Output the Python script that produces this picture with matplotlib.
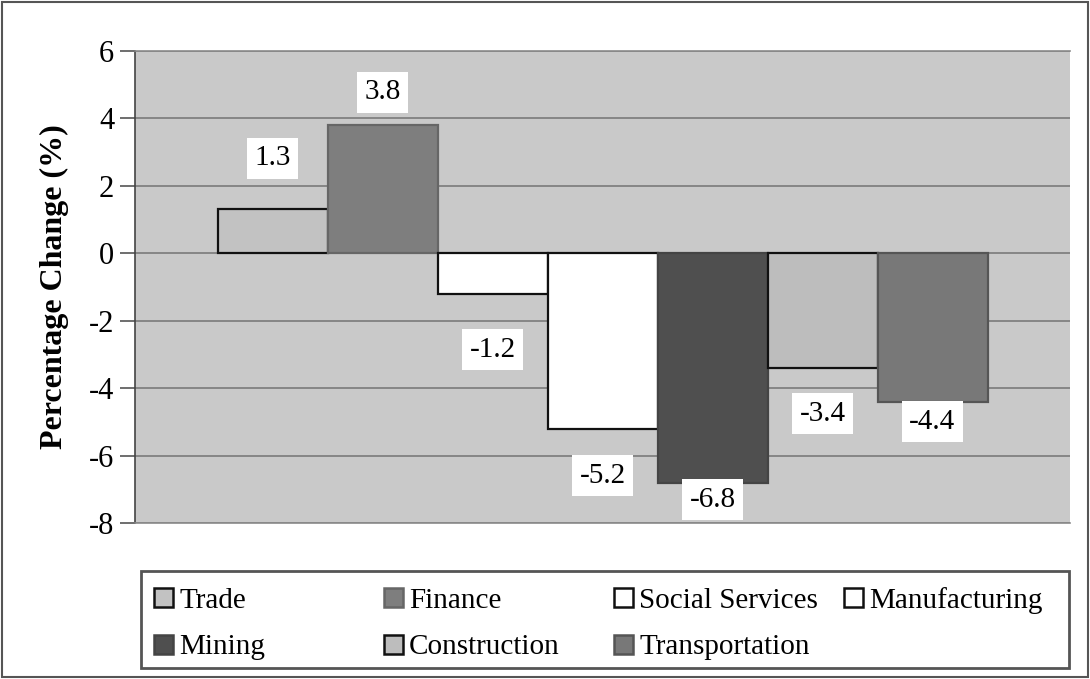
import matplotlib
matplotlib.use("Agg")
import matplotlib.pyplot as plt
from matplotlib.patches import Rectangle

categories = ["Trade", "Finance", "Social Services", "Manufacturing",
              "Mining", "Construction", "Transportation"]
values = [1.3, 3.8, -1.2, -5.2, -6.8, -3.4, -4.4]
labels = ["1.3", "3.8", "-1.2", "-5.2", "-6.8", "-3.4", "-4.4"]
yticks = [6, 4, 2, 0, -2, -4, -6, -8]

colors = ["#c2c2c2", "#7e7e7e", "#ffffff", "#ffffff", "#4f4f4f", "#bdbdbd", "#787878"]
edges = ["#111111", "#666666", "#111111", "#111111", "#444444", "#111111", "#555555"]
# label offsets (pixels) from bar end
offsets = [51, 33, -56, -47, -17, -46, -20]

plt.rcParams['font.family'] = ['Liberation Serif', 'DejaVu Serif']

W, H = 1090, 679
fig = plt.figure(figsize=(W / 100, H / 100), dpi=100)
ax = fig.add_axes([135 / W, 1 - 523 / H, (1070 - 135) / W, (523 - 51) / H])
ax.set_facecolor("#c9c9c9")

for i, v in enumerate(values):
    ax.bar(i, v, width=1.0, color=colors[i], edgecolor=edges[i], linewidth=1.6, zorder=3)
    ax.annotate(labels[i], xy=(i, v), xytext=(0, offsets[i] * 0.72),
                textcoords="offset points", ha="center", va="center",
                fontsize=21, zorder=5,
                bbox=dict(boxstyle="square,pad=0.26", fc="white", ec="none"))

ax.set_xlim(-1.25, 7.25)
ax.set_ylim(-8, 6)
ax.set_yticks(yticks)
ax.set_yticklabels([str(t) for t in yticks], fontsize=22)
ax.set_xticks([])
ax.grid(axis="y", color="#808080", linewidth=1.3, zorder=1)
ax.tick_params(axis="y", direction="out", length=11, width=1.2, color="#555555", pad=4)
for s in ["top", "right", "bottom"]:
    ax.spines[s].set_color("#8a8a8a")
    ax.spines[s].set_linewidth(1.2)
ax.spines["right"].set_visible(False)
ax.spines["left"].set_color("#444444")
ax.spines["left"].set_linewidth(1.2)
ax.set_ylabel("Percentage Change (%)", fontsize=23, fontweight="bold", labelpad=14)

# Legend (Excel-style fixed-width columns, row-major order)
lx0, ly0, lx1, ly1 = 141, 571, 1069, 668
fig.patches.append(Rectangle((lx0 / W, 1 - ly1 / H), (lx1 - lx0) / W, (ly1 - ly0) / H,
                             transform=fig.transFigure, fill=True, facecolor="white",
                             edgecolor="#555555", linewidth=2.0))
ncol = 4
for i, name in enumerate(categories):
    col, row = i % ncol, i // ncol
    mx = 154 + col * 230
    my = 597.5 + row * 46.5
    fig.patches.append(Rectangle((mx / W, 1 - (my + 9.5) / H), 19 / W, 19 / H,
                                 transform=fig.transFigure, facecolor=colors[i],
                                 edgecolor=edges[i], linewidth=1.8))
    fig.text((mx + 25) / W, 1 - my / H, name, fontsize=21, ha="left", va="center_baseline")

fig.patches.append(Rectangle((0.002, 0.003), 0.996, 0.994, transform=fig.transFigure,
                             fill=False, edgecolor="#555555", linewidth=1.5))

fig.savefig("out.png", dpi=100)
